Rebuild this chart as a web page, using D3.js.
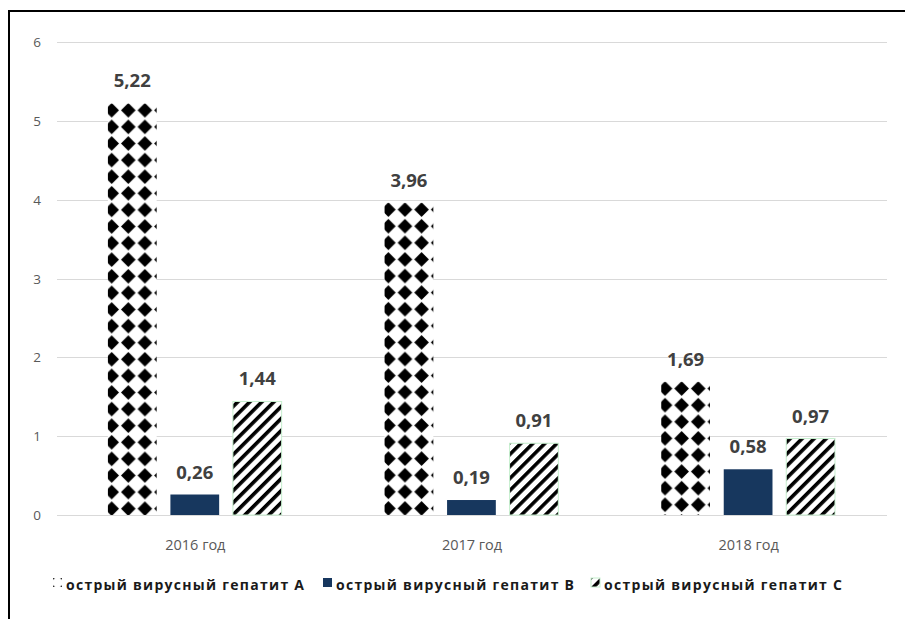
<!DOCTYPE html>
<html><head><meta charset="utf-8">
<script src="https://cdn.jsdelivr.net/npm/d3@7"></script>
<style>html,body{margin:0;padding:0;background:#fff;} svg{display:block;}</style>
</head><body>
<svg id="chart" width="905" height="619"></svg>
<script>
const categories = ["2016 год", "2017 год", "2018 год"];
const seriesNames = ["острый вирусный гепатит А", "острый вирусный гепатит В", "острый вирусный гепатит С"];
const hepA = [5.22, 3.96, 1.69];
const hepB = [0.26, 0.19, 0.58];
const hepC = [1.44, 0.91, 0.97];
const yTicks = [0, 1, 2, 3, 4, 5, 6];
const labelText = v => String(v.toFixed(2)).replace(".", ",");

const series = [hepA, hepB, hepC];
const svg = d3.select("#chart");
const defs = svg.append("defs");

// frame
svg.append("line").attr("x1", 9).attr("x2", 9).attr("y1", 10).attr("y2", 619).attr("stroke", "#000").attr("stroke-width", 2);
svg.append("line").attr("x1", 8).attr("x2", 905).attr("y1", 11).attr("y2", 11).attr("stroke", "#000").attr("stroke-width", 2);

const x0 = d3.scaleBand().domain(categories).range([57, 887]);
const bw = x0.bandwidth();
const x1 = d3.scaleBand().domain(seriesNames).range([bw * 0.184, bw * 0.812]).paddingInner(0.22);
const y = d3.scaleLinear().domain([0, 6]).range([515, 42]);

// grid
svg.append("g").selectAll("line").data(yTicks).join("line")
  .attr("x1", 57).attr("x2", 887)
  .attr("y1", d => Math.round(y(d)) + 0.5).attr("y2", d => Math.round(y(d)) + 0.5)
  .attr("stroke", "#d9d9d9").attr("stroke-width", 1);

// y tick labels
svg.append("g").selectAll("text").data(yTicks).join("text")
  .attr("x", 41).attr("y", d => y(d) + 5)
  .attr("text-anchor", "end")
  .attr("font-family", "'Open Sans', sans-serif").attr("font-size", 13.5)
  .attr("fill", "#595959").text(d => d);

// category labels
svg.append("g").selectAll("text").data(categories).join("text")
  .attr("x", d => x0(d) + bw / 2).attr("y", 550)
  .attr("text-anchor", "middle")
  .attr("font-family", "'Open Sans', sans-serif").attr("font-size", 14.5)
  .attr("fill", "#595959").text(d => d);

// patterns
function diamondPattern(id, xOff, yOff, size, frac) {
  const p = defs.append("pattern").attr("id", id).attr("patternUnits", "userSpaceOnUse")
    .attr("width", size).attr("height", size).attr("x", xOff).attr("y", yOff);
  p.append("rect").attr("width", size).attr("height", size).attr("fill", "#fff");
  const c = size / 2, h = size * frac;
  p.append("path").attr("d", `M${c},${c - h}L${c + h},${c}L${c},${c + h}L${c - h},${c}Z`).attr("fill", "#000");
}
function stripePattern(id) {
  const p = defs.append("pattern").attr("id", id).attr("patternUnits", "userSpaceOnUse")
    .attr("width", 8.5).attr("height", 8.5)
    .attr("patternTransform", "rotate(45)");
  p.append("rect").attr("width", 8.5).attr("height", 8.5).attr("fill", "#fff");
  p.append("rect").attr("x", 0).attr("width", 3.6).attr("height", 8.5).attr("fill", "#000");
}

categories.forEach((cat, i) => {
  const xa = x0(cat) + x1(seriesNames[0]);
  diamondPattern("pA" + i, xa - 4.5, y(hepA[i]) - 1.5, 16.6, 0.44);
});
stripePattern("pC");
diamondPattern("pAleg", 48.5, 573.5, 9, 0.2);

const barFill = (s, i) => s === 0 ? `url(#pA${i})` : s === 1 ? "#17375E" : "url(#pC)";

// bars
const gBars = svg.append("g");
series.forEach((vals, s) => {
  gBars.selectAll(null).data(vals).join("rect")
    .attr("x", (d, i) => x0(categories[i]) + x1(seriesNames[s]))
    .attr("y", d => y(d))
    .attr("width", x1.bandwidth())
    .attr("height", d => y(0) - y(d))
    .attr("fill", (d, i) => barFill(s, i))
    .attr("stroke", s === 2 ? "#c6efce" : "none")
    .attr("stroke-width", 1);
});

// value labels
series.forEach((vals, s) => {
  svg.append("g").selectAll("text").data(vals).join("text")
    .attr("x", (d, i) => x0(categories[i]) + x1(seriesNames[s]) + x1.bandwidth() / 2)
    .attr("y", d => y(d) - 16)
    .attr("text-anchor", "middle")
    .attr("font-family", "'Open Sans', sans-serif").attr("font-weight", "bold").attr("font-size", 18.5)
    .attr("fill", "#404040").text(d => labelText(d));
});

// legend
const legendX = [53, 323, 591];
const legFills = ["url(#pAleg)", "#17375E", "url(#pC)"];
const lg = svg.append("g");
seriesNames.forEach((name, s) => {
  lg.append("rect").attr("x", legendX[s]).attr("y", 578).attr("width", 9).attr("height", 9)
    .attr("fill", legFills[s]).attr("stroke", s === 2 ? "#c6efce" : "none");
  lg.append("text").attr("x", legendX[s] + 13).attr("y", 589.5)
    .attr("font-family", "'Open Sans', sans-serif").attr("font-weight", "bold").attr("font-size", 14)
    .attr("textLength", 238).attr("lengthAdjust", "spacing")
    .attr("fill", "#1a1a1a").text(name);
});
</script>
</body></html>
